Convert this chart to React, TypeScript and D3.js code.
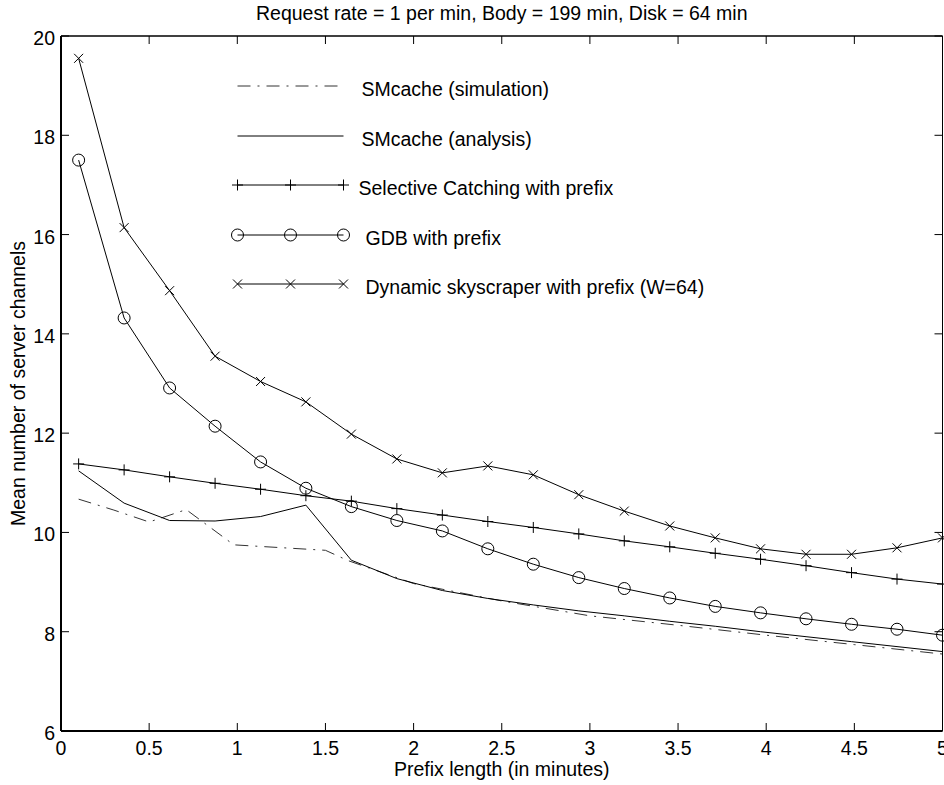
import React, { useEffect, useRef } from 'react';
import * as d3 from 'd3';

// prefix lengths (minutes) of the analysis / marker series
const prefixLen = [0.1, 0.358, 0.616, 0.874, 1.132, 1.389, 1.647, 1.905, 2.163, 2.421,
  2.679, 2.937, 3.195, 3.453, 3.711, 3.968, 4.226, 4.484, 4.742, 5.0];

const skyscraper = [19.55, 16.14, 14.87, 13.55, 13.04, 12.63, 11.98, 11.48, 11.2, 11.34,
  11.16, 10.76, 10.43, 10.13, 9.89, 9.67, 9.56, 9.56, 9.69, 9.89];
const selective = [11.38, 11.26, 11.12, 10.99, 10.87, 10.74, 10.63, 10.48, 10.35, 10.22,
  10.1, 9.97, 9.83, 9.71, 9.58, 9.46, 9.33, 9.19, 9.06, 8.96];
const gdb = [17.5, 14.32, 12.91, 12.14, 11.42, 10.89, 10.52, 10.24, 10.03, 9.67,
  9.36, 9.09, 8.87, 8.68, 8.51, 8.38, 8.26, 8.15, 8.05, 7.93];
const analysis = [11.24, 10.59, 10.24, 10.23, 10.32, 10.55, 9.44, 9.07, 8.83, 8.67,
  8.54, 8.42, 8.32, 8.21, 8.11, 8.0, 7.9, 7.8, 7.7, 7.6];

// simulation was sampled at its own prefix lengths
const simPrefix = [0.1, 0.3, 0.5, 0.71, 0.98, 1.5, 1.63, 2.0, 2.5, 3.0, 3.5, 4.0, 4.5, 5.0];
const simulation = [10.67, 10.45, 10.21, 10.46, 9.75, 9.64, 9.43, 8.97, 8.62, 8.32, 8.13, 7.93, 7.74, 7.55];

const xTicks = [0, 0.5, 1, 1.5, 2, 2.5, 3, 3.5, 4, 4.5, 5];
const yTicks = [6, 8, 10, 12, 14, 16, 18, 20];

const legendLabels = [
  'SMcache (simulation)',
  'SMcache (analysis)',
  'Selective Catching with prefix',
  'GDB with prefix',
  'Dynamic skyscraper with prefix (W=64)',
];

const FONT = '"Liberation Sans", Arial, Helvetica, sans-serif';

const App = () => {
  const svgRef = useRef(null);

  useEffect(() => {
    const width = 944;
    const height = 785;
    const margin = { top: 36, right: 1.5, bottom: 54, left: 61 };
    const fs = 19.5;

    const svg = d3.select(svgRef.current);
    svg.selectAll('*').remove();
    svg.attr('width', width).attr('height', height);

    const x = d3.scaleLinear().domain([0, 5]).range([margin.left, width - margin.right]);
    const y = d3.scaleLinear().domain([6, 20]).range([height - margin.bottom, margin.top]);

    const x0 = x(0), x1 = x(5), y0 = y(6), y1 = y(20);
    const tickLen = 8;

    // ticks, inward on all four sides
    const g = svg.append('g').attr('stroke', '#000').attr('stroke-width', 1);
    xTicks.forEach(t => {
      g.append('line').attr('x1', x(t)).attr('x2', x(t)).attr('y1', y0).attr('y2', y0 - tickLen);
      g.append('line').attr('x1', x(t)).attr('x2', x(t)).attr('y1', y1).attr('y2', y1 + tickLen);
    });
    yTicks.forEach(t => {
      g.append('line').attr('x1', x0).attr('x2', x0 + tickLen).attr('y1', y(t)).attr('y2', y(t));
      g.append('line').attr('x1', x1).attr('x2', x1 - tickLen).attr('y1', y(t)).attr('y2', y(t));
    });

    // box
    svg.append('line').attr('x1', x0).attr('x2', x1).attr('y1', y1).attr('y2', y1)
      .attr('stroke', '#000').attr('stroke-width', 1.3);
    svg.append('line').attr('x1', x1).attr('x2', x1).attr('y1', y1).attr('y2', y0)
      .attr('stroke', '#000').attr('stroke-width', 1);
    svg.append('line').attr('x1', x0).attr('x2', x0).attr('y1', y1).attr('y2', y0)
      .attr('stroke', '#000').attr('stroke-width', 2);
    svg.append('line').attr('x1', x0).attr('x2', x1).attr('y1', y0).attr('y2', y0)
      .attr('stroke', '#000').attr('stroke-width', 2);

    // tick labels
    svg.append('g').selectAll('text').data(xTicks).enter().append('text')
      .attr('x', t => x(t)).attr('y', y0 + 24)
      .attr('text-anchor', 'middle')
      .attr('font-family', FONT).attr('font-size', fs)
      .text(t => String(t));
    svg.append('g').selectAll('text').data(yTicks).enter().append('text')
      .attr('x', x0 - 6).attr('y', t => y(t) + 9)
      .attr('text-anchor', 'end')
      .attr('font-family', FONT).attr('font-size', fs)
      .text(t => String(t));

    // titles
    svg.append('text').attr('x', (x0 + x1) / 2).attr('y', 20)
      .attr('text-anchor', 'middle').attr('font-family', FONT).attr('font-size', fs)
      .text('Request rate = 1 per min, Body = 199 min, Disk = 64 min');
    svg.append('text').attr('x', (x0 + x1) / 2).attr('y', 776)
      .attr('text-anchor', 'middle').attr('font-family', FONT).attr('font-size', fs)
      .text('Prefix length (in minutes)');
    svg.append('text')
      .attr('transform', `translate(25,${(y0 + y1) / 2}) rotate(-90)`)
      .attr('text-anchor', 'middle').attr('font-family', FONT).attr('font-size', fs)
      .text('Mean number of server channels');

    const line = d3.line().x(d => x(d[0])).y(d => y(d[1]));
    const pairs = vals => prefixLen.map((p, i) => [p, vals[i]]);

    const drawMarker = (sel, kind, cx, cy) => {
      if (kind === 'plus') {
        sel.append('path').attr('d', `M${cx - 5.5},${cy}H${cx + 5.5}M${cx},${cy - 5.5}V${cy + 5.5}`)
          .attr('stroke', '#000').attr('fill', 'none');
      } else if (kind === 'circle') {
        sel.append('circle').attr('cx', cx).attr('cy', cy).attr('r', 6)
          .attr('stroke', '#000').attr('fill', 'none');
      } else if (kind === 'x') {
        sel.append('path').attr('d', `M${cx - 4.5},${cy - 4.5}L${cx + 4.5},${cy + 4.5}M${cx - 4.5},${cy + 4.5}L${cx + 4.5},${cy - 4.5}`)
          .attr('stroke', '#000').attr('fill', 'none');
      }
    };

    const series = [
      { data: simPrefix.map((p, i) => [p, simulation[i]]), dash: '13,7,2,7', marker: null, color: '#333' },
      { data: pairs(analysis), dash: null, marker: null, color: '#000' },
      { data: pairs(selective), dash: null, marker: 'plus', color: '#000' },
      { data: pairs(gdb), dash: null, marker: 'circle', color: '#000' },
      { data: pairs(skyscraper), dash: null, marker: 'x', color: '#000' },
    ];

    const plot = svg.append('g');
    series.forEach(s => {
      plot.append('path').attr('d', line(s.data))
        .attr('fill', 'none').attr('stroke', s.color).attr('stroke-width', 1)
        .attr('stroke-dasharray', s.dash);
      if (s.marker) {
        s.data.forEach(d => drawMarker(plot, s.marker, x(d[0]), y(d[1])));
      }
    });

    // legend
    const legendY = [86, 136, 185, 235, 284];
    const legendTextX = [361.5, 361.5, 358.5, 365.5, 365.5];
    const lg = svg.append('g');
    series.forEach((s, i) => {
      const ly = legendY[i];
      lg.append('line').attr('x1', 237.5).attr('x2', 343.5).attr('y1', ly).attr('y2', ly)
        .attr('stroke', s.color).attr('stroke-width', 1).attr('stroke-dasharray', s.dash);
      if (s.marker) {
        [237.5, 290.5, 343.5].forEach(mx => drawMarker(lg, s.marker, mx, ly));
      }
      lg.append('text').attr('x', legendTextX[i]).attr('y', ly + 10)
        .attr('font-family', FONT).attr('font-size', fs)
        .text(legendLabels[i]);
    });
  }, []);

  return (
    <div style={{ position: 'absolute', left: 0, top: 0, background: '#fff' }}>
      <svg ref={svgRef}></svg>
    </div>
  );
};

export default App;
